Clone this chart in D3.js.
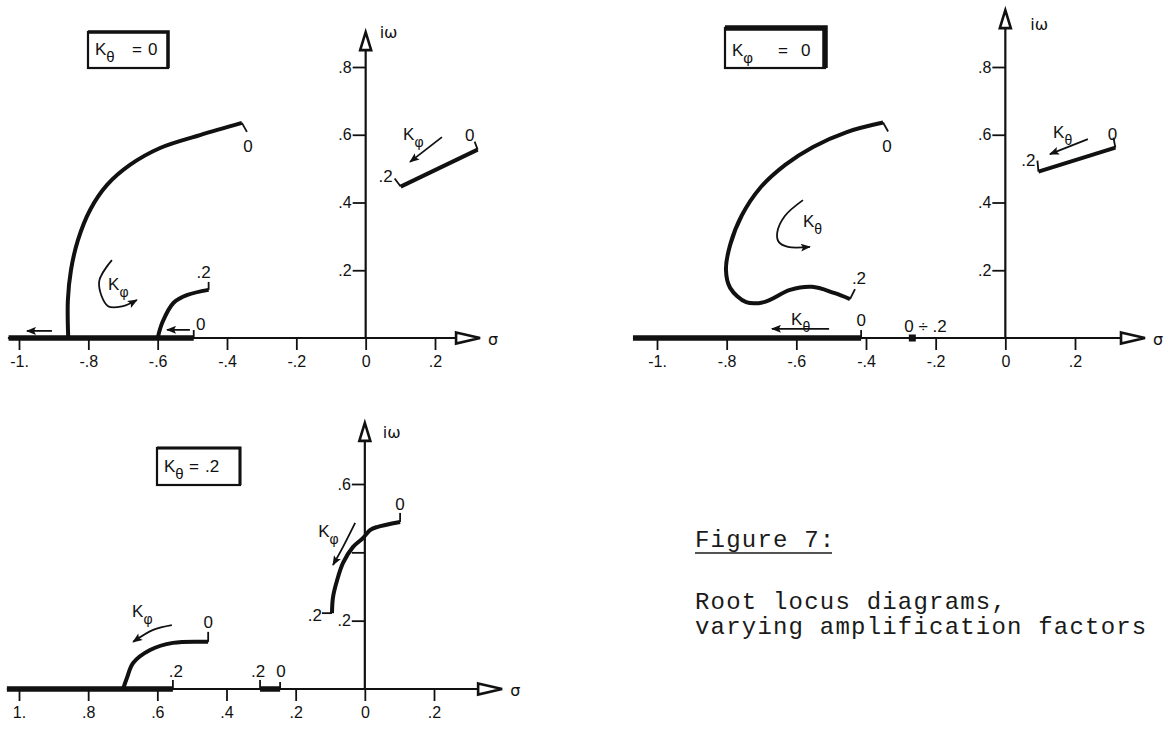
<!DOCTYPE html>
<html>
<head>
<meta charset="utf-8">
<script src="https://cdn.jsdelivr.net/npm/d3@7"></script>
<style>
  html, body { margin: 0; padding: 0; background: #fff; }
  svg { display: block; }
  .tick-label { font-family: "Liberation Sans", "DejaVu Sans", sans-serif; font-size: 16px; fill: #111; }
  .end-label { font-family: "Liberation Sans", "DejaVu Sans", sans-serif; font-size: 17px; fill: #111; }
  .gain { font-family: "Liberation Sans", "DejaVu Sans", sans-serif; font-size: 17px; fill: #111; }
  .axis-name { font-family: "DejaVu Sans", "Liberation Sans", sans-serif; font-size: 16px; fill: #111; }
  .caption { font-family: "Courier New", "Liberation Mono", monospace; font-size: 24px; fill: #1a1a1a; letter-spacing: 1.2px; }
</style>
</head>
<body>
<svg id="fig" width="1168" height="729"></svg>
<script>
// ---- tick values and labels ----
const sigmaTicks = [-1, -0.8, -0.6, -0.4, -0.2, 0, 0.2];
const sigmaLabelsUpper = ["-1.", "-.8", "-.6", "-.4", "-.2", "0", ".2"];
const sigmaLabelsLower = ["1.", ".8", ".6", ".4", ".2", "0", ".2"];
const omegaTicksUpper = [0.2, 0.4, 0.6, 0.8];
const omegaLabelsUpper = [".2", ".4", ".6", ".8"];
const omegaTicksLower = [0.2, 0.4, 0.6];
const omegaLabelsLower = [".2", "", ".6"];

// ---- Kθ = 0 : roots as Kφ goes 0 → .2  ([σ, ω]) ----
const phiLocusOuter = [[-0.858, 0], [-0.859, 0.112], [-0.85, 0.201], [-0.83, 0.289], [-0.795, 0.378],
  [-0.746, 0.452], [-0.68, 0.511], [-0.593, 0.561], [-0.478, 0.599], [-0.357, 0.635]];
const phiLocusInner = [[-0.6, 0], [-0.586, 0.047], [-0.554, 0.104], [-0.514, 0.127], [-0.453, 0.142]];
const phiLocusUpper = [[0.101, 0.447], [0.323, 0.556]];
const phiRealBranch = [-1.03, -0.496];

// ---- Kφ = 0 : roots as Kθ goes 0 → .2 ----
const thetaLocusLoop = [[-0.351, 0.636], [-0.455, 0.608], [-0.552, 0.564], [-0.632, 0.511], [-0.704, 0.443],
  [-0.756, 0.363], [-0.79, 0.275], [-0.802, 0.201], [-0.79, 0.148], [-0.744, 0.106], [-0.693, 0.106],
  [-0.618, 0.142], [-0.555, 0.151], [-0.492, 0.133], [-0.446, 0.115]];
const thetaLocusUpper = [[0.095, 0.491], [0.316, 0.562]];
const thetaRealBranch = [-1.069, -0.414];
const thetaRealFixed = [-0.267];

// ---- Kθ = .2 : roots as Kφ goes 0 → .2 ----
const mixLocusLeft = [[-0.699, 0], [-0.688, 0.032], [-0.67, 0.076], [-0.621, 0.114], [-0.555, 0.135], [-0.453, 0.138]];
const mixLocusRight = [[-0.095, 0.222], [-0.092, 0.269], [-0.08, 0.319], [-0.063, 0.369], [-0.034, 0.416],
  [-0.005, 0.442], [0.015, 0.465], [0.035, 0.474], [0.102, 0.489]];
const mixRealBranch = [-1.035, -0.555];
const mixRealShort = [-0.303, -0.245];

const svg = d3.select("#fig");
const INK = "#111";

// arrowhead marker for the gain-direction arrows
svg.append("defs").append("marker")
  .attr("id", "head").attr("viewBox", "0 0 10 8").attr("refX", 9).attr("refY", 4)
  .attr("markerWidth", 11).attr("markerHeight", 8).attr("markerUnits", "userSpaceOnUse")
  .attr("orient", "auto")
  .append("path").attr("d", "M0,0 L10,4 L0,8 L2,4 Z").attr("fill", INK);

const smooth = d3.curveCatmullRom.alpha(0.5);

function gainLabel(g, px, py, sub) {
  const t = g.append("text").attr("class", "gain").attr("x", px).attr("y", py);
  t.append("tspan").text("K");
  t.append("tspan").attr("dy", 7).attr("font-size", 14).text(sub);
}

function drawPanel(cfg) {
  const g = svg.append("g");
  const x = d3.scaleLinear().domain([-1, 0.2]).range(cfg.xRange);
  const y = d3.scaleLinear().domain([0, cfg.yMax]).range(cfg.yRange);
  const y0 = y(0), xz = x(0);

  // real axis
  const gx = g.append("g").attr("transform", `translate(0,${y0})`)
    .call(d3.axisBottom(x).tickValues(sigmaTicks).tickFormat((d, i) => cfg.xLabels[i]).tickSize(12).tickPadding(6));
  gx.select(".domain").remove();
  gx.selectAll(".tick line").attr("stroke", INK).attr("stroke-width", 1.8);
  gx.selectAll(".tick text").attr("class", "tick-label");
  const xEnd = x(cfg.sigmaSpan[1]);
  g.append("line").attr("x1", x(cfg.sigmaSpan[0])).attr("x2", xEnd - 22)
    .attr("y1", y0).attr("y2", y0).attr("stroke", INK).attr("stroke-width", 2.2);
  g.append("path").attr("d", `M${xEnd - 24},${y0 - 5.5} L${xEnd},${y0} L${xEnd - 24},${y0 + 5.5} Z`)
    .attr("fill", "#fff").attr("stroke", INK).attr("stroke-width", 2.6).attr("stroke-linejoin", "miter");
  g.append("text").attr("class", "axis-name").attr("x", xEnd + 8).attr("y", y0 + 7).text("σ");

  // imaginary axis
  const gy = g.append("g").attr("transform", `translate(${xz},0)`)
    .call(d3.axisLeft(y).tickValues(cfg.yTicks).tickFormat((d, i) => cfg.yLabels[i]).tickSize(13).tickPadding(1));
  gy.select(".domain").remove();
  gy.selectAll(".tick line").attr("stroke", INK).attr("stroke-width", 1.8);
  gy.selectAll(".tick text").attr("class", "tick-label");
  const yEnd = y(cfg.omegaTop);
  g.append("line").attr("x1", xz).attr("x2", xz).attr("y1", y0).attr("y2", yEnd + 16)
    .attr("stroke", INK).attr("stroke-width", 2.2);
  g.append("path").attr("d", `M${xz - 5.5},${yEnd + 18} L${xz},${yEnd} L${xz + 5.5},${yEnd + 18} Z`)
    .attr("fill", "#fff").attr("stroke", INK).attr("stroke-width", 2.6);
  g.append("text").attr("class", "axis-name").attr("x", xz + cfg.iwOffset[0]).attr("y", yEnd + cfg.iwOffset[1]).text("iω");

  // branches lying on the real axis
  cfg.realBranches.forEach(b => {
    g.append("line").attr("x1", x(b[0])).attr("x2", x(b[1])).attr("y1", y0).attr("y2", y0)
      .attr("stroke", INK).attr("stroke-width", 5.5);
  });
  (cfg.realPoints || []).forEach(p => {
    g.append("rect").attr("x", x(p) - 3.5).attr("y", y0 - 3.5).attr("width", 7).attr("height", 7).attr("fill", INK);
  });

  // complex branches
  const line = d3.line().x(d => x(d[0])).y(d => y(d[1])).curve(smooth);
  cfg.loci.forEach(pts => {
    g.append("path").attr("d", line(pts)).attr("fill", "none").attr("stroke", INK)
      .attr("stroke-width", 4).attr("stroke-linecap", "butt").attr("stroke-linejoin", "round");
  });

  // gain values at the branch ends
  cfg.ends.forEach(e => {
    const px = x(e.at[0]), py = y(e.at[1]);
    g.append("line").attr("x1", px).attr("y1", py).attr("x2", px + e.hook[0]).attr("y2", py + e.hook[1])
      .attr("stroke", INK).attr("stroke-width", 1.8);
    g.append("text").attr("class", "end-label").attr("x", px + e.label[0]).attr("y", py + e.label[1])
      .attr("text-anchor", e.anchor || "middle").text(e.text);
  });

  // direction-of-increasing-gain arrows
  const arrowLine = d3.line().x(d => x(d[0])).y(d => y(d[1])).curve(smooth);
  cfg.arrows.forEach(a => {
    g.append("path").attr("d", arrowLine(a.pts)).attr("fill", "none").attr("stroke", INK)
      .attr("stroke-width", 1.8).attr("marker-end", "url(#head)");
    if (a.k) gainLabel(g, x(a.k[0]), y(a.k[1]), a.sub);
  });

  // boxed parameter note
  const bx = cfg.box;
  g.append("rect").attr("x", bx.x).attr("y", bx.y).attr("width", bx.w).attr("height", bx.h)
    .attr("fill", "#fff").attr("stroke", INK).attr("stroke-width", 2.2);
  g.append("path").attr("d", `M${bx.x},${bx.y} L${bx.x + bx.w},${bx.y} L${bx.x + bx.w},${bx.y + bx.h}`)
    .attr("fill", "none").attr("stroke", INK).attr("stroke-width", bx.shadow);
  const t = g.append("text").attr("class", "gain").attr("x", bx.x + 7).attr("y", bx.y + bx.base);
  t.append("tspan").text("K");
  t.append("tspan").attr("dy", 7).attr("font-size", 15).text(bx.sub);
  t.append("tspan").attr("x", bx.x + bx.eqX).attr("dy", -7).text("=");
  t.append("tspan").attr("x", bx.x + bx.valX).text(bx.value);
}

// Kθ = 0
drawPanel({
  xRange: [19, 435], yRange: [338, 67], yMax: 0.8,
  xLabels: sigmaLabelsUpper, yTicks: omegaTicksUpper, yLabels: omegaLabelsUpper,
  sigmaSpan: [-1.032, 0.33], omegaTop: 0.903, iwOffset: [14, 6],
  realBranches: [phiRealBranch],
  loci: [phiLocusOuter, phiLocusInner, phiLocusUpper],
  ends: [
    { at: phiLocusOuter[phiLocusOuter.length - 1], text: "0", hook: [5, 9], label: [6, 29] },
    { at: phiLocusInner[phiLocusInner.length - 1], text: ".2", hook: [0, -8], label: [-5, -12] },
    { at: phiLocusUpper[0], text: ".2", hook: [-6, -8], label: [-15, -5] },
    { at: phiLocusUpper[1], text: "0", hook: [-3, -8], label: [-8, -9] },
    { at: [phiRealBranch[1], 0], text: "0", hook: [0, -8], label: [7, -8] }
  ],
  arrows: [
    { pts: [[-0.905, 0.021], [-0.977, 0.021]] },
    { pts: [[-0.507, 0.024], [-0.573, 0.024]] },
    { pts: [[-0.732, 0.23], [-0.769, 0.165], [-0.743, 0.094], [-0.7, 0.094], [-0.66, 0.112]], k: [-0.743, 0.142], sub: "φ" },
    { pts: [[0.22, 0.593], [0.128, 0.52]], k: [0.108, 0.584], sub: "φ" }
  ],
  box: { x: 88, y: 32, w: 80, h: 36, shadow: 3.5, base: 23, sub: "θ", eqX: 44, valX: 60, value: "0" }
});

// Kφ = 0
drawPanel({
  xRange: [657, 1075], yRange: [338, 67], yMax: 0.8,
  xLabels: sigmaLabelsUpper, yTicks: omegaTicksUpper, yLabels: omegaLabelsUpper,
  sigmaSpan: [-1.069, 0.401], omegaTop: 0.968, iwOffset: [25, 20],
  realBranches: [thetaRealBranch], realPoints: thetaRealFixed,
  loci: [thetaLocusLoop, thetaLocusUpper],
  ends: [
    { at: thetaLocusLoop[0], text: "0", hook: [5, 9], label: [4, 29] },
    { at: thetaLocusLoop[thetaLocusLoop.length - 1], text: ".2", hook: [5, -10], label: [9, -15] },
    { at: thetaLocusUpper[0], text: ".2", hook: [-1, -11], label: [-3, -6], anchor: "end" },
    { at: thetaLocusUpper[1], text: "0", hook: [-2, -10], label: [-3, -8] },
    { at: [thetaRealBranch[1], 0], text: "0", hook: [0, -8], label: [0, -12] },
    { at: [thetaRealFixed[0], 0], text: "0 ÷ .2", hook: [0, 0], label: [-8, -6], anchor: "start" }
  ],
  arrows: [
    { pts: [[-0.506, 0.027], [-0.67, 0.027]], k: [-0.615, 0.038], sub: "θ" },
    { pts: [[0.237, 0.587], [0.128, 0.543]], k: [0.137, 0.59], sub: "θ" },
    { pts: [[-0.581, 0.407], [-0.633, 0.36], [-0.655, 0.31], [-0.65, 0.283], [-0.624, 0.269], [-0.561, 0.269]], k: [-0.581, 0.328], sub: "θ" }
  ],
  box: { x: 725, y: 28, w: 100, h: 40, shadow: 5.5, base: 28, sub: "φ", eqX: 53, valX: 76, value: "0" }
});

// Kθ = .2
drawPanel({
  xRange: [19, 434], yRange: [689, 484], yMax: 0.6,
  xLabels: sigmaLabelsLower, yTicks: omegaTicksLower, yLabels: omegaLabelsLower,
  sigmaSpan: [-1.035, 0.397], omegaTop: 0.779, iwOffset: [18, 15],
  realBranches: [mixRealBranch, mixRealShort],
  loci: [mixLocusLeft, mixLocusRight],
  ends: [
    { at: [mixRealBranch[1], 0], text: ".2", hook: [0, -9], label: [3, -12] },
    { at: mixLocusLeft[mixLocusLeft.length - 1], text: "0", hook: [0, -10], label: [0, -14] },
    { at: [mixRealShort[0], 0], text: ".2", hook: [0, -9], label: [-2, -12] },
    { at: [mixRealShort[1], 0], text: "0", hook: [0, -7], label: [1, -12] },
    { at: mixLocusRight[0], text: ".2", hook: [-10, 0], label: [-10, 8], anchor: "end" },
    { at: mixLocusRight[mixLocusRight.length - 1], text: "0", hook: [0, -9], label: [0, -12] }
  ],
  arrows: [
    { pts: [[-0.558, 0.187], [-0.612, 0.173], [-0.67, 0.138]], k: [-0.673, 0.211], sub: "φ" },
    { pts: [[-0.028, 0.486], [-0.063, 0.416], [-0.092, 0.363]], k: [-0.135, 0.445], sub: "φ" }
  ],
  box: { x: 157, y: 448, w: 83, h: 37, shadow: 3, base: 24, sub: "θ", eqX: 32, valX: 48, value: ".2" }
});

// caption
const cap = svg.append("g");
cap.append("text").attr("class", "caption").attr("x", 695).attr("y", 547).text("Figure 7:");
cap.append("line").attr("x1", 695).attr("x2", 832).attr("y1", 553).attr("y2", 553)
  .attr("stroke", "#1a1a1a").attr("stroke-width", 1.6);
cap.append("text").attr("class", "caption").attr("x", 695).attr("y", 609).text("Root locus diagrams,");
cap.append("text").attr("class", "caption").attr("x", 695).attr("y", 634).text("varying amplification factors");
</script>
</body>
</html>
